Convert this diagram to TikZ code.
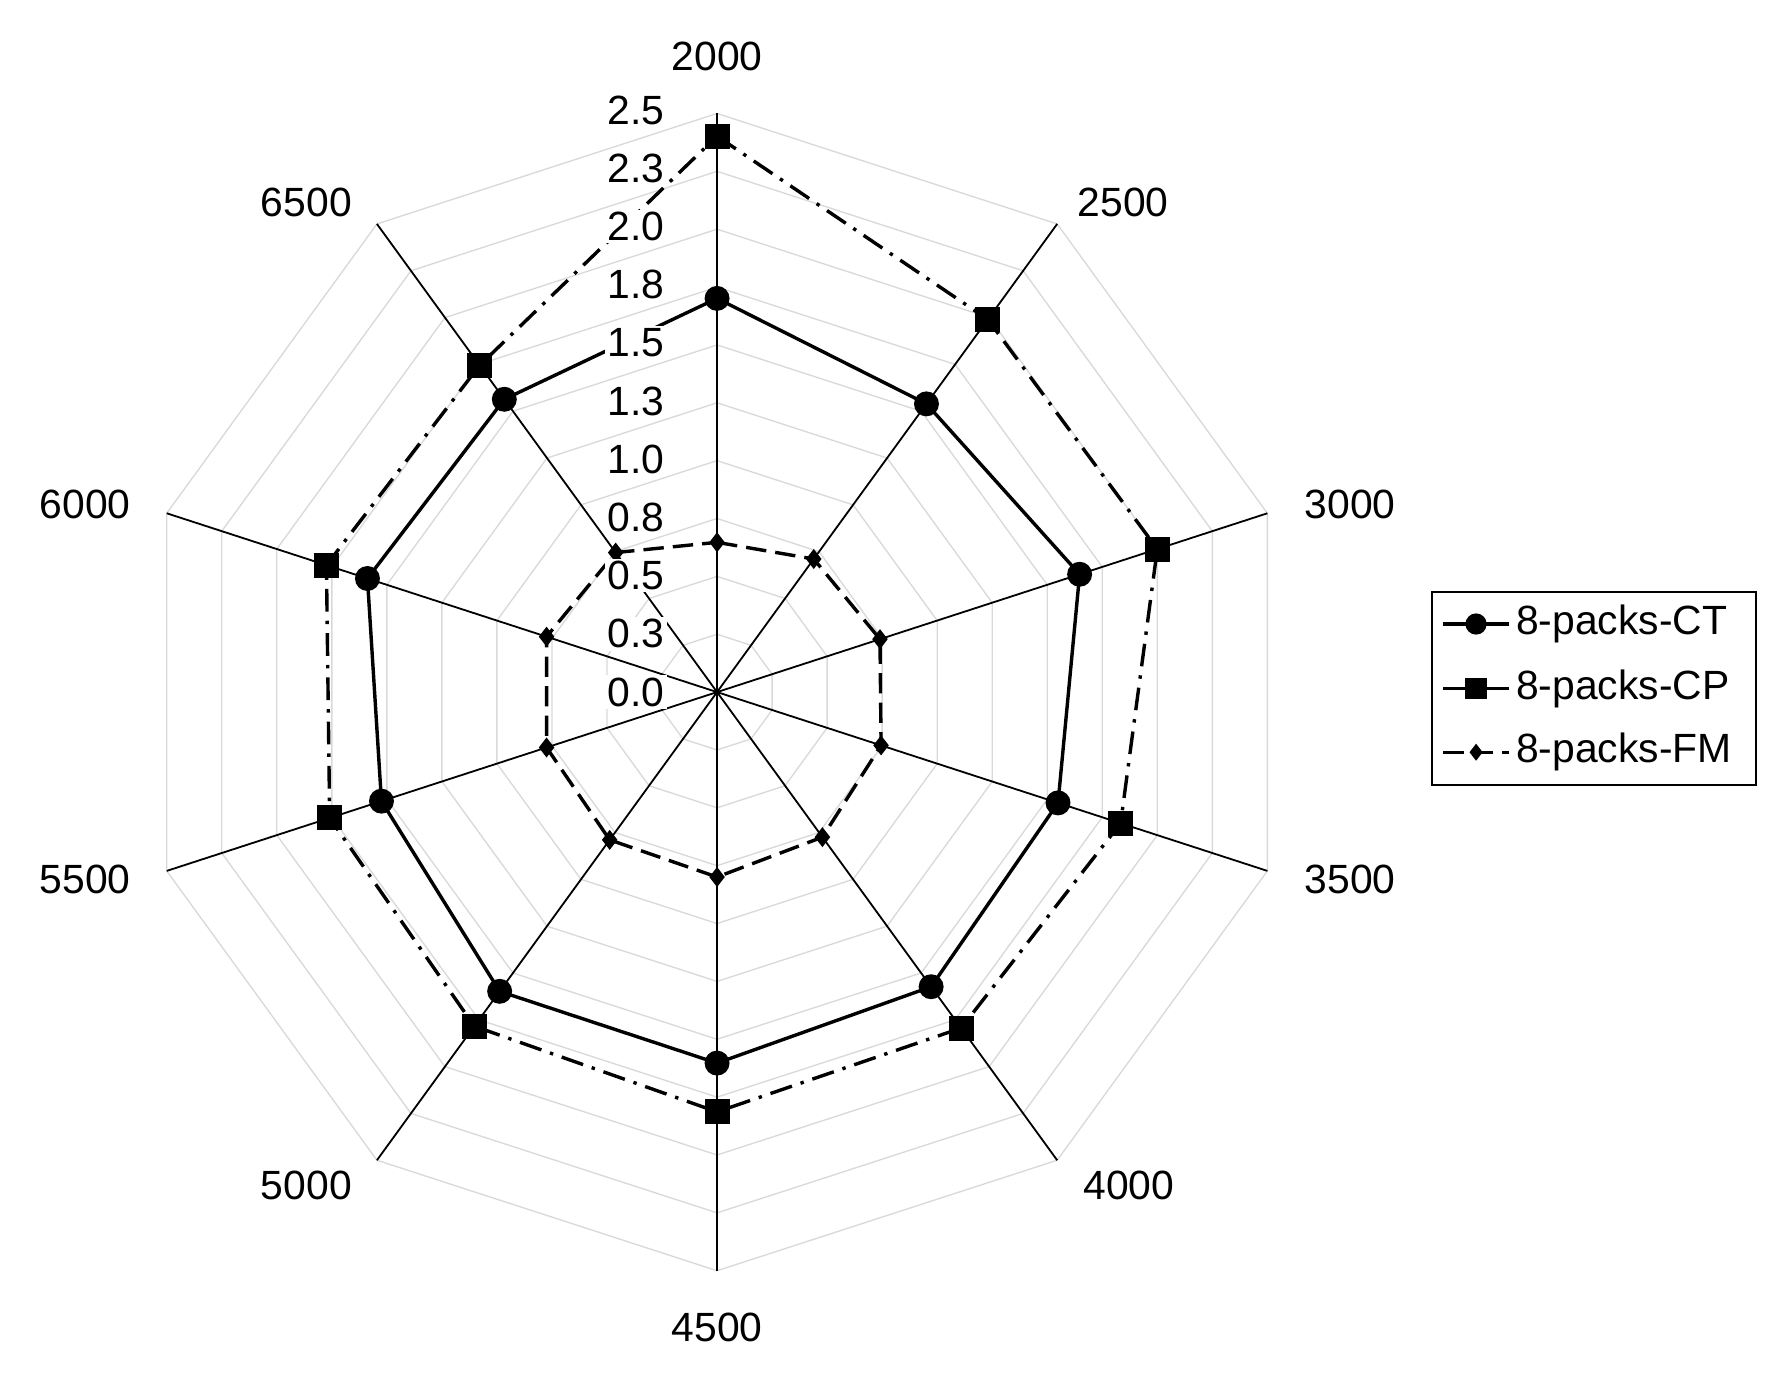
\documentclass[tikz,border=0pt]{standalone}
\usepackage{fontspec}
\setmainfont{Liberation Sans}
\usetikzlibrary{shapes.geometric,calc}
\begin{document}
\begin{tikzpicture}[x=0.5pt,y=0.5pt,
  lbl/.style={font=\fontsize{18}{20}\selectfont},
  grid/.style={draw=black!15,line width=0.6pt},
  axisline/.style={line width=0.8pt},
  ctline/.style={line width=1.5pt},
  cpline/.style={line width=1.5pt,dash pattern=on 10pt off 4pt on 1.5pt off 4pt},
  fmline/.style={line width=1.5pt,dash pattern=on 9pt off 4pt},
  ctmark/.style={circle,fill=black,inner sep=0pt,minimum size=11pt},
  cpmark/.style={rectangle,fill=black,inner sep=0pt,minimum size=11pt},
  fmmark/.style={diamond,fill=black,inner sep=0pt,minimum width=7pt,minimum height=9pt}]
\useasboundingbox (0,0) rectangle (1568,-1210);
\coordinate (O) at (632,-610);
% grid rings
\foreach \r in {1,...,10}{
  \draw[grid] ($(O)+(90:\r*51)$) \foreach \k in {1,...,9}{ -- ($(O)+({90-36*\k}:\r*51)$)} -- cycle;
}
% axes
\foreach \k in {0,...,9}{
  \coordinate (A\k) at ($(O)+({90-36*\k}:510)$);
  \draw[axisline] (O) -- (A\k);
}
% axis labels
\node[lbl] (l0) at (632,-50) {2000};
\node[lbl] (l1) at (990,-178) {2500};
\node[lbl] (l2) at (1190,-445) {3000};
\node[lbl] (l3) at (1190,-775) {3500};
\node[lbl] (l4) at (995,-1045) {4000};
\node[lbl] (l5) at (632,-1170) {4500};
\node[lbl] (l6) at (270,-1045) {5000};
\node[lbl] (l7) at (75,-775) {5500};
\node[lbl] (l8) at (75,-445) {6000};
\node[lbl] (l9) at (270,-178) {6500};
% data
\foreach \name/\vals in {ct/{347,314,336,316,321,327,326,311,324,319},
                         cp/{490,406,408,374,366,370,364,359,362,356},
                         fm/{132,145,151,152,158,163,161,158,158,152}}{
  \foreach \v [count=\i from 0] in \vals {
    \coordinate (\name\i) at ($(O)+({90-36*\i}:\v)$);
  }
}
\draw[ctline] (ct0)--(ct1)--(ct2)--(ct3)--(ct4)--(ct5)--(ct6)--(ct7)--(ct8)--(ct9)--cycle;
\draw[cpline] (cp0)--(cp1)--(cp2)--(cp3)--(cp4)--(cp5)--(cp6)--(cp7)--(cp8)--(cp9)--cycle;
\draw[fmline] (fm0)--(fm1)--(fm2)--(fm3)--(fm4)--(fm5)--(fm6)--(fm7)--(fm8)--(fm9)--cycle;
\foreach \i in {0,...,9}{
  \node[ctmark] (mct\i) at (ct\i) {};
  \node[cpmark] (mcp\i) at (cp\i) {};
  \node[fmmark] (mfm\i) at (fm\i) {};
}
% ring labels
\foreach \t [count=\i from 0] in {0.0,0.3,0.5,0.8,1.0,1.3,1.5,1.8,2.0,2.3,2.5}{
  \node[lbl,anchor=east,fill=white,inner sep=1pt] (r\i) at (588,{-610+\i*51.3}) {\t};
}
% legend
\node[draw,line width=0.8pt,minimum width=143pt,minimum height=85pt] (leg) at (1405,-607) {};
\foreach \y/\st/\mk/\tx [count=\j] in {-550/ctline/ctmark/8-packs-CT,-607/cpline/cpmark/8-packs-CP,-663/fmline/fmmark/8-packs-FM}{
  \coordinate (ls\j) at (1272,\y);
  \coordinate (le\j) at (1330,\y);
  \draw[\st] (ls\j) -- (le\j);
  \node[\mk,scale=0.85] (lm\j) at (1301,\y) {};
  \node[lbl,anchor=west,inner sep=0pt] (lt\j) at (1336,\y) {\tx};
}
\end{tikzpicture}
\end{document}
